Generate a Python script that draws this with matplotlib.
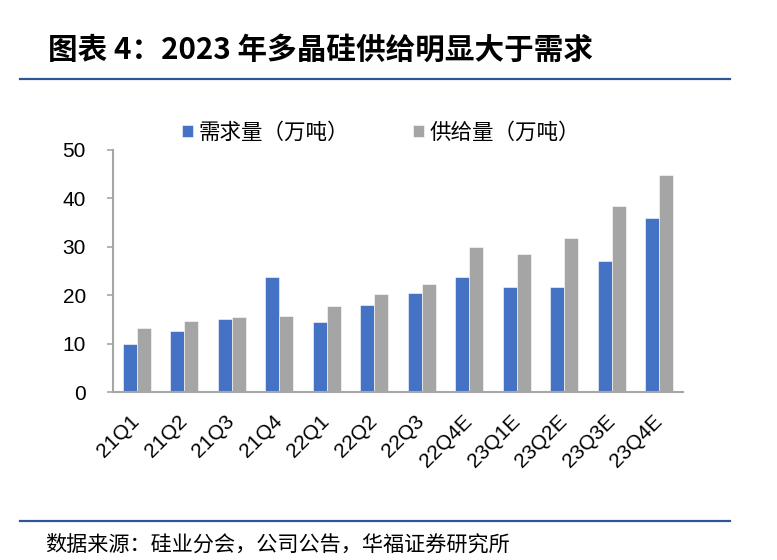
import numpy as np
import matplotlib
matplotlib.use('Agg')
from matplotlib import pyplot as plt
from matplotlib.lines import Line2D

plt.rcParams['font.family'] = ['Liberation Sans', 'Noto Sans CJK SC', 'DejaVu Sans']

# 数据
quarters = ['21Q1', '21Q2', '21Q3', '21Q4', '22Q1', '22Q2', '22Q3',
            '22Q4E', '23Q1E', '23Q2E', '23Q3E', '23Q4E']
demand = [9.9, 12.6, 15.1, 23.8, 14.5, 18.0, 20.4, 23.8, 21.6, 21.6, 27.1, 35.9]
supply = [13.2, 14.7, 15.4, 15.7, 17.8, 20.2, 22.3, 29.9, 28.6, 31.8, 38.4, 44.8]
yticks = [0, 10, 20, 30, 40, 50]

fig = plt.figure(figsize=(7.77, 5.6), dpi=100)
W, H = 777, 560
cjk = ['Noto Sans CJK SC', 'DejaVu Sans']

# 标题与分隔线
fig.text(48 / W, 1 - 50 / H, '图表 4：2023 年多晶硅供给明显大于需求',
         fontsize=21.3, fontweight='bold', va='center', ha='left', family=cjk)
fig.add_artist(Line2D([20 / W, 730 / W], [1 - 79 / H, 1 - 79 / H],
                      color='#2E5597', lw=1.6))
fig.add_artist(Line2D([20 / W, 730 / W], [1 - 521 / H, 1 - 521 / H],
                      color='#2E5597', lw=1.6))
fig.text(45 / W, 1 - 545 / H, '数据来源：硅业分会，公司公告，华福证券研究所',
         fontsize=15.2, va='center', ha='left', family=cjk)

ax = fig.add_axes([113 / W, 1 - 392 / H, 570 / W, 242 / H])
x = np.arange(len(quarters))
bw = 0.29
ax.bar(x - bw / 2, demand, bw, color='#4472C4', label='需求量（万吨）',
       edgecolor='white', linewidth=0.4)
ax.bar(x + bw / 2, supply, bw, color='#A5A5A5', label='供给量（万吨）',
       edgecolor='white', linewidth=0.4)

ax.set_xlim(-0.5, len(quarters) - 0.5)
ax.set_ylim(0, 50)
ax.set_yticks(yticks)
ax.set_xticks(x)
ax.set_xticklabels(quarters, rotation=45, ha='right', va='center',
                   rotation_mode='anchor')
ax.tick_params(axis='y', labelsize=15, length=4.5, width=1.2, color='#A6A6A6', pad=15)
ax.tick_params(axis='x', labelsize=15, length=0, pad=19)
for s in ['top', 'right']:
    ax.spines[s].set_visible(False)
for s in ['left', 'bottom']:
    ax.spines[s].set_color('#A6A6A6')
    ax.spines[s].set_linewidth(1.5)

fig.legend(loc='center left', bbox_to_anchor=(182 / W, 1 - 133 / H), ncol=2,
           frameon=False, borderpad=0, borderaxespad=0,
           handlelength=0.5, handleheight=0.5, handletextpad=0.25,
           columnspacing=3.0, prop={'family': cjk, 'size': 15.5})

fig.savefig('out.png', dpi=100)
